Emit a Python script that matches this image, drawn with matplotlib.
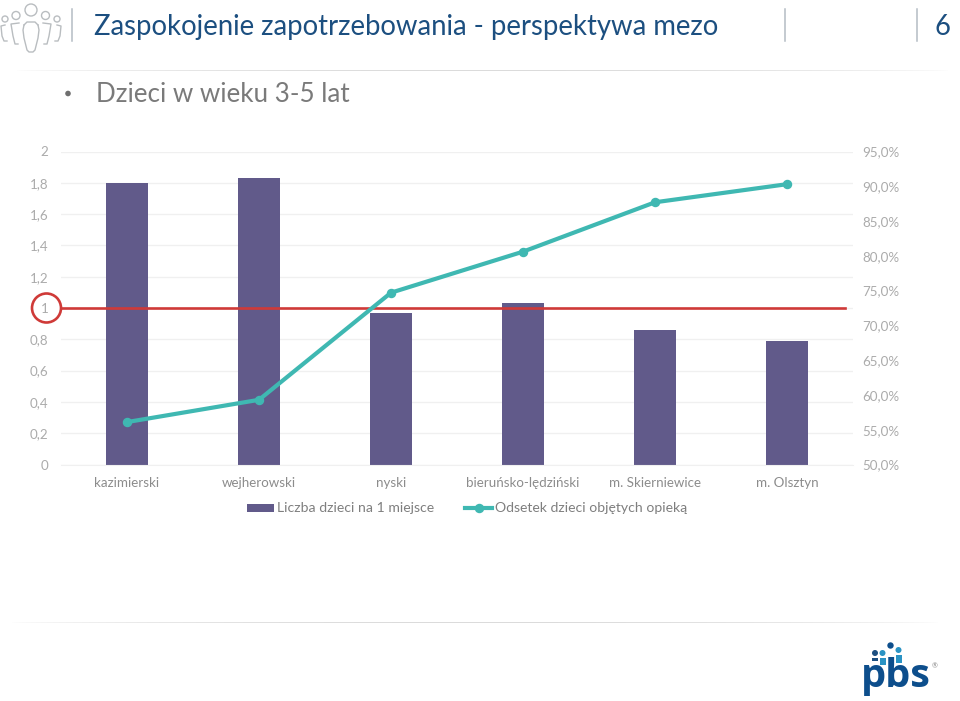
import matplotlib
matplotlib.use('Agg')
import matplotlib.pyplot as plt
import numpy as np
from matplotlib.patches import Circle, Rectangle
from matplotlib.ticker import FuncFormatter

plt.rcParams['font.family'] = ['Lato', 'DejaVu Sans']

# Data
powiaty = ['kazimierski', 'wejherowski', 'nyski', 'bieruńsko-lędziński', 'm. Skierniewice', 'm. Olsztyn']
liczba_dzieci = [1.80, 1.83, 0.97, 1.03, 0.86, 0.79]
odsetek = [56.1, 59.3, 74.7, 80.6, 87.7, 90.3]
prog = [1.0, 1.0]
left_ticks = [0, 0.2, 0.4, 0.6, 0.8, 1, 1.2, 1.4, 1.6, 1.8, 2]
right_ticks = [50, 55, 60, 65, 70, 75, 80, 85, 90, 95]

W, H = 960, 701
BAR_COL = '#615a8a'
LINE_COL = '#3fb8b2'
RED = '#cf3a38'
GREY = '#ababab'
NAVY = '#1c4f80'

fig = plt.figure(figsize=(W / 100, H / 100), dpi=100, facecolor='white')


def px_axes(x0, y0, x1, y1):
    # axes rectangle given in image pixels, y going down
    return [x0 / W, 1 - y1 / H, (x1 - x0) / W, (y1 - y0) / H]


# decoration layer in pixel coordinates
bg = fig.add_axes([0, 0, 1, 1])
bg.set_xlim(0, W)
bg.set_ylim(H, 0)
bg.axis('off')


def fade_line(y, x0, x1):
    alpha = np.sin(np.linspace(0, np.pi, 400)) ** 0.6
    img = np.ones((1, 400, 4))
    img[..., :3] = 0.86
    img[0, :, 3] = alpha
    bg.imshow(img, extent=[x0, x1, y + 1, y], aspect='auto', zorder=1)


fade_line(70, 15, 950)
fade_line(622, 10, 940)
bg.set_xlim(0, W)
bg.set_ylim(H, 0)

for x in [72, 785, 917]:
    bg.plot([x, x], [9, 41], color='#b4bcc4', lw=1.1)

# people icon
icon = '#b9bdc0'
for cx, cy, r in [(31, 10, 6), (45.5, 15.5, 4), (16, 15.5, 4), (57, 19, 3), (5, 19, 3)]:
    bg.add_patch(Circle((cx, cy), r, fill=False, ec=icon, lw=1))
bg.plot([24, 23, 24, 27, 29, 33, 35, 38, 39, 38], [25, 30, 38, 50, 52, 52, 50, 38, 30, 25], color=icon, lw=1)
bg.plot([24, 27, 35, 38], [25, 22, 22, 25], color=icon, lw=1)
bg.plot([19, 11, 13, 15, 18], [23, 24, 36, 44, 44], color=icon, lw=1)
bg.plot([43, 51, 49, 47, 44], [23, 24, 36, 44, 44], color=icon, lw=1)
bg.plot([5, 1, 2, 4, 7], [25, 26, 36, 41, 41], color=icon, lw=1)
bg.plot([57, 61, 60, 58, 55], [25, 26, 36, 41, 41], color=icon, lw=1)

# header texts
bg.text(94, 27, 'Zaspokojenie zapotrzebowania - perspektywa mezo', color=NAVY, fontsize=19.8,
        va='center', ha='left')
bg.text(943, 27, '6', color=NAVY, fontsize=19.8, va='center', ha='center')
bg.add_patch(Circle((68, 93.5), 2.8, color='#6f6f6f', lw=0))
bg.text(96, 94, 'Dzieci w wieku 3-5 lat', color='#7a7a7a', fontsize=18.7, va='center', ha='left')

# chart
ax = fig.add_axes(px_axes(61, 151.5, 853, 464.5))
ax.patch.set_alpha(0)
x = np.arange(len(powiaty))
bars = ax.bar(x, liczba_dzieci, width=0.312, color=BAR_COL, zorder=2, label='Liczba dzieci na 1 miejsce')
ax.plot([-0.5, 5.44], prog, color=RED, lw=1.9, zorder=4)
ax.set_xlim(-0.5, 5.5)
ax.set_ylim(0, 2)
ax.set_xticks(x)
ax.set_xticklabels(powiaty)
ax.set_yticks(left_ticks)
ax.yaxis.set_major_formatter(FuncFormatter(lambda v, p: f'{v:g}'.replace('.', ',')))
ax.grid(True, axis='y', color='#f0f0f0', lw=1, zorder=0)
ax.set_axisbelow(True)
ax.tick_params(axis='both', length=0, labelsize=9.6, labelcolor=GREY)
ax.tick_params(axis='x', pad=9, labelcolor='#8c8c8c')
ax.tick_params(axis='y', pad=9)
for side in ax.spines:
    ax.spines[side].set_visible(False)
ax.spines['bottom'].set_visible(True)
ax.spines['bottom'].set_color('#f0f0f0')

ax2 = ax.twinx()
line, = ax2.plot(x, odsetek, color=LINE_COL, lw=3, marker='o', ms=5.8, zorder=5,
                 label='Odsetek dzieci objętych opieką')
ax2.set_ylim(50, 95)
ax2.set_yticks(right_ticks)
ax2.yaxis.set_major_formatter(FuncFormatter(lambda v, p: f'{v:.1f}%'.replace('.', ',')))
ax2.tick_params(axis='y', length=0, labelsize=9.6, labelcolor=GREY, pad=6.5)
for side in ax2.spines:
    ax2.spines[side].set_visible(False)

leg = fig.legend(handles=[bars, line], loc='center', bbox_to_anchor=(467 / W, 1 - 508.5 / H), ncol=2,
                 frameon=False, fontsize=10.1, labelcolor='#7f7f7f', handlelength=1.95,
                 handleheight=0.5, columnspacing=2.2, handletextpad=0.2)

# red ring round the 1 on the left axis
top = fig.add_axes([0, 0, 1, 1])
top.set_xlim(0, W)
top.set_ylim(H, 0)
top.axis('off')
top.add_patch(Circle((46.5, 308), 14.5, fill=False, ec=RED, lw=1.9))

# pbs logo
top.text(895.5, 677, 'pbs', color='#0d4e8c', fontsize=28.5, fontweight='bold', ha='center', va='center',
         family=['Open Sans', 'DejaVu Sans'])
for cx, cy, r, col in [(890.5, 645.5, 3.2, '#0d4e8c'), (875, 653, 3, '#1c4f80'), (882.5, 653, 3, '#2a93c4'),
                       (898.5, 650, 3, '#2a93c4')]:
    top.add_patch(Circle((cx, cy), r, color=col, lw=0))
top.add_patch(Rectangle((879.5, 658), 6, 7, color='#2a93c4', lw=0))
top.add_patch(Rectangle((895.5, 655), 6, 8, color='#2a93c4', lw=0))
top.add_patch(Rectangle((872, 658), 6, 3, color='#1c4f80', lw=0))
top.text(935, 666, '®', color='#888888', fontsize=5, ha='center', va='center')

fig.savefig('out.png', dpi=100, facecolor='white')
